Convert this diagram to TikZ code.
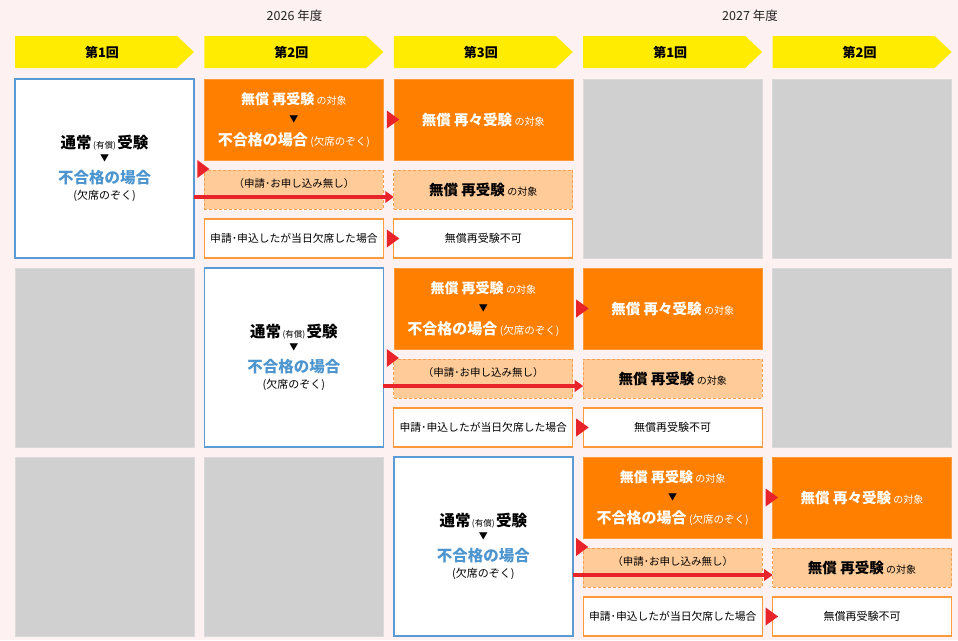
\documentclass[tikz,border=0pt]{standalone}
\usepackage{fontspec}
\setmainfont{Noto Sans CJK JP}
\usetikzlibrary{calc,arrows.meta}
\definecolor{bgpink}{HTML}{FDF1F1}
\definecolor{hdryellow}{HTML}{FFEC00}
\definecolor{orfill}{HTML}{FF8000}
\definecolor{orlight}{HTML}{FFCC99}
\definecolor{ordash}{HTML}{F8A050}
\definecolor{orline}{HTML}{FF9A3C}
\definecolor{mainblue}{HTML}{5B9BD5}
\definecolor{ngblue}{HTML}{4D95CF}
\definecolor{graybg}{HTML}{D0D0D0}
\definecolor{graybd}{HTML}{DADADA}
\definecolor{redc}{HTML}{E8232A}
\definecolor{txtdark}{HTML}{222222}
\newcommand\FS[1]{\fontsize{#1}{#1}\selectfont}
\tikzset{
  box/.style={anchor=north west, inner sep=0pt, outer sep=0pt, minimum width=179pt},
  mainbox/.style={box, minimum height=179pt, fill=white, draw=mainblue, line width=1.8pt},
  graybox/.style={box, minimum height=179pt, fill=graybg, draw=graybd, line width=0.8pt},
  orbox/.style={box, minimum height=81pt, fill=orfill, draw=orline, line width=0.6pt},
  dbox/.style={box, minimum height=39pt, fill=orlight, draw=ordash, line width=0.9pt, dash pattern=on 3pt off 2pt},
  wbox/.style={box, minimum height=39pt, fill=white, draw=orline, line width=1.2pt},
  txt/.style={inner sep=0pt, outer sep=0pt, text=black},
  redline/.style={draw=redc, line width=3.6pt},
}
\newcommand\HeadBox[3]{%
  \fill[hdryellow] (#2,36) -- ({#2+162},36) -- ({#2+179},52) -- ({#2+162},68) -- (#2,68) -- cycle;
  \node[txt, font=\FS{13}\bfseries] (#1) at ({#2+87},52.5) {#3};
}
\newcommand\GrayBox[3]{\node[graybox] (#1) at (#2,#3) {};}
\newcommand\MainBox[3]{%
  \node[mainbox] (#1) at (#2,#3) {};
  \node[txt, font=\FS{15.5}\bfseries] (#1a) at ($(#1.north)+(0,64)$) {通常{\mdseries\FS{8.5}\,(有償)\,}受験};
  \node[txt, font=\FS{9}] (#1b) at ($(#1.north)+(0,79)$) {▼};
  \node[txt, font=\FS{15.5}\bfseries, text=ngblue] (#1c) at ($(#1.north)+(0,98.5)$) {不合格の場合};
  \node[txt, font=\FS{11}] (#1d) at ($(#1.north)+(0,117)$) {(欠席のぞく)};
}
\newcommand\SetA[3]{%
  \node[orbox] (#1o) at (#2,#3) {};
  \node[txt, font=\FS{14}\bfseries, text=white] (#1o1) at ($(#1o.north)+(0,20.5)$) {無償 再受験\,{\mdseries\FS{10}の対象}};
  \node[txt, font=\FS{9}] (#1o2) at ($(#1o.north)+(0,40)$) {▼};
  \node[txt, font=\FS{15}\bfseries, text=white] (#1o3) at ($(#1o.north)+(0,61)$) {不合格の場合\,{\mdseries\FS{10.5}(欠席のぞく)}};
  \node[dbox] (#1d) at (#2,{#3+91}) {};
  \node[txt, font=\FS{10.5}] (#1d1) at ($(#1d.north)+(0,14)$) {（申請･お申し込み無し）};
  \node[wbox] (#1w) at (#2,{#3+140}) {};
  \node[txt, font=\FS{10.8}] (#1w1) at (#1w.center) {申請･申込したが当日欠席した場合};
}
\newcommand\SetB[3]{%
  \node[orbox] (#1o) at (#2,#3) {};
  \node[txt, font=\FS{14.5}\bfseries, text=white] (#1o1) at (#1o.center) {無償 再々受験\,{\mdseries\FS{10}の対象}};
  \node[dbox] (#1d) at (#2,{#3+91}) {};
  \node[txt, font=\FS{14.5}\bfseries] (#1d1) at (#1d.center) {無償 再受験\,{\mdseries\FS{10}の対象}};
  \node[wbox] (#1w) at (#2,{#3+140}) {};
  \node[txt, font=\FS{11}] (#1w1) at (#1w.center) {無償再受験不可};
}
\newcommand\Links[3]{%
  \fill[redc] ($(#2d.north west)+(-7,-10)$) -- ($(#2d.north west)+(5,-1)$) -- ($(#2d.north west)+(-7,8)$) -- cycle;
  \fill[redc] ($(#3o.west)+(-7,-9)$) -- ($(#3o.west)+(5.5,0)$) -- ($(#3o.west)+(-7,9)$) -- cycle;
  \fill[redc] ($(#3w.west)+(-7,-9)$) -- ($(#3w.west)+(5.5,0)$) -- ($(#3w.west)+(-7,9)$) -- cycle;
  \coordinate (#1r) at ($(#1.north east)+(0,118)$);
  \coordinate (#1e) at ($(#1r -| #3d.west)+(-8,0)$);
  \draw[redline] (#1r) -- (#1e);
  \fill[redc] ($(#1e)+(-0.5,-6)$) -- (#1r -| #3d.west) -- ($(#1e)+(-0.5,6)$) -- cycle;
}
\begin{document}
\begin{tikzpicture}[x=1pt,y=-1pt]
\useasboundingbox (0,0) rectangle (958,640);
\fill[bgpink] (0,0) rectangle (958,640);
% years
\node[txt, font=\FS{12.5}, text=txtdark] (y26) at (294.5,15.5) {2026 年度};
\node[txt, font=\FS{12.5}, text=txtdark] (y27) at (750,15.5) {2027 年度};
% headers
\HeadBox{h1}{15}{第1回}
\HeadBox{h2}{204.4}{第2回}
\HeadBox{h3}{393.8}{第3回}
\HeadBox{h4}{583.2}{第1回}
\HeadBox{h5}{772.6}{第2回}
% row 1
\MainBox{Ma}{15}{79}
\SetA{Aa}{204.4}{79}
\SetB{Ba}{393.8}{79}
\GrayBox{Ga4}{583.2}{79}
\GrayBox{Ga5}{772.6}{79}
% row 2
\GrayBox{Gb1}{15}{268}
\MainBox{Mb}{204.4}{268}
\SetA{Ab}{393.8}{268}
\SetB{Bb}{583.2}{268}
\GrayBox{Gb5}{772.6}{268}
% row 3
\GrayBox{Gc1}{15}{457}
\GrayBox{Gc2}{204.4}{457}
\MainBox{Mc}{393.8}{457}
\SetA{Ac}{583.2}{457}
\SetB{Bc}{772.6}{457}
% links
\Links{Ma}{Aa}{Ba}
\Links{Mb}{Ab}{Bb}
\Links{Mc}{Ac}{Bc}
\end{tikzpicture}
\end{document}
